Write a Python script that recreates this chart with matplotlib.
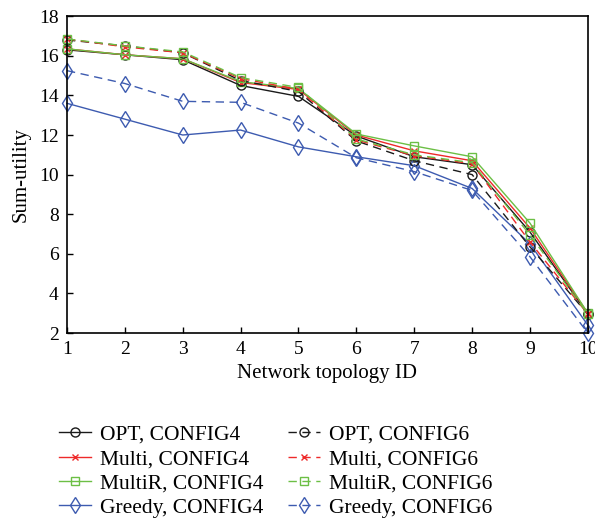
import matplotlib
matplotlib.use('Agg')
import matplotlib.pyplot as plt

plt.rcParams['font.family'] = ['Liberation Serif', 'DejaVu Serif']

# Network topology IDs
topology = [1, 2, 3, 4, 5, 6, 7, 8, 9, 10]

# Sum-utility
opt_c4 = [16.3, 16.05, 15.8, 14.5, 13.95, 11.95, 10.9, 10.5, 7.1, 2.95]
opt_c6 = [16.8, 16.5, 16.15, 14.75, 14.2, 11.7, 10.7, 10.0, 6.35, 2.95]
multi_c4 = [16.35, 16.05, 15.85, 14.65, 14.3, 12.0, 11.2, 10.7, 7.3, 3.0]
multi_c6 = [16.85, 16.45, 16.15, 14.85, 14.3, 11.75, 10.95, 10.55, 6.6, 2.95]
multir_c4 = [16.35, 16.05, 15.85, 14.7, 14.35, 12.05, 11.45, 10.9, 7.55, 3.0]
multir_c6 = [16.85, 16.5, 16.2, 14.9, 14.4, 11.8, 11.0, 10.6, 6.95, 2.95]
greedy_c4 = [13.6, 12.8, 12.0, 12.25, 11.4, 10.9, 10.45, 9.3, 6.5, 2.4]
greedy_c6 = [15.25, 14.6, 13.7, 13.65, 12.6, 10.85, 10.15, 9.2, 5.85, 2.0]

labels = ['OPT, CONFIG4', 'Multi, CONFIG4', 'MultiR, CONFIG4', 'Greedy, CONFIG4',
          'OPT, CONFIG6', 'Multi, CONFIG6', 'MultiR, CONFIG6', 'Greedy, CONFIG6']

black = '#1a1a1a'
red = '#ee2a2a'
green = '#6cbf45'
blue = '#3d5bb0'

fig = plt.figure(figsize=(5.95, 5.22), dpi=100)
ax = fig.add_axes([0.1126, 0.362, 0.8754, 0.607])

series = [
    (opt_c4, black, '-', 'o', 6.5, 'none'),
    (multi_c4, red, '-', 'x', 5, red),
    (multir_c4, green, '-', 's', 5.5, 'none'),
    (greedy_c4, blue, '-', 'd', 8.5, 'none'),
    (opt_c6, black, '--', 'o', 6.5, 'none'),
    (multi_c6, red, '--', 'x', 5, red),
    (multir_c6, green, '--', 's', 5.5, 'none'),
    (greedy_c6, blue, '--', 'd', 8.5, 'none'),
]

handles = []
for (vals, c, ls, mk, ms, fc), lab in zip(series, labels):
    h, = ax.plot(topology, vals, color=c, linestyle=ls, marker=mk, markersize=ms,
                 markerfacecolor=fc, markeredgecolor=c, markeredgewidth=1.0,
                 linewidth=1.0, label=lab, clip_on=False)
    if ls == '--':
        h.set_dashes((6, 4))
    handles.append(h)

ax.set_xlim(1, 10)
ax.set_ylim(2, 18)
ax.set_xticks(topology)
ax.set_yticks([2, 4, 6, 8, 10, 12, 14, 16, 18])
ax.tick_params(direction='in', labelsize=14, length=4, width=1, pad=6)
for s in ax.spines.values():
    s.set_linewidth(1.2)
ax.set_xlabel('Network topology ID', fontsize=15, labelpad=4)
ax.set_ylabel('Sum-utility', fontsize=15, labelpad=6)

leg = fig.legend(handles=handles, labels=labels, ncol=2, loc='upper left',
                 bbox_to_anchor=(48 / 595, 1 - 414 / 522), frameon=False, fontsize=15.5,
                 handlelength=1.5, columnspacing=1.15, labelspacing=0.2,
                 handletextpad=0.4, borderpad=0)

fig.savefig('out.png', dpi=100)
